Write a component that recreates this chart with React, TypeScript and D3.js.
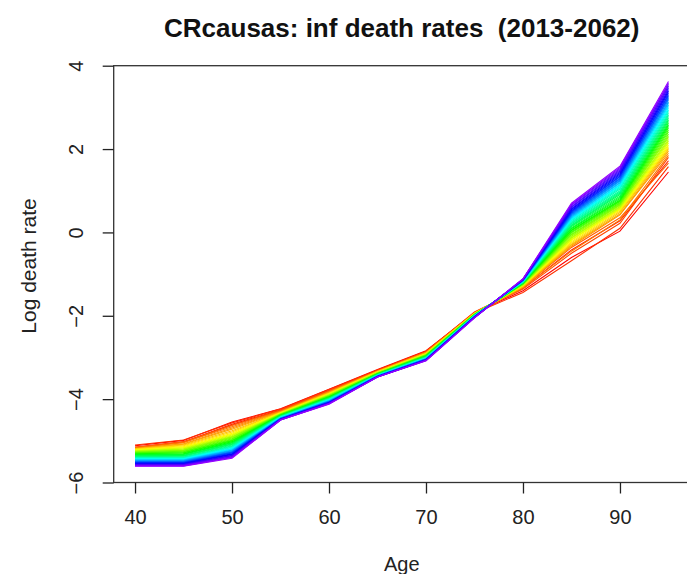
import * as d3 from 'd3';
import { useEffect, useRef } from 'react';

// ages on the x axis
const ages = [40, 45, 50, 55, 60, 65, 70, 75, 80, 85, 90, 95];
// one line per forecast year, coloured red (2013) to violet (2062)
const years = d3.range(2013, 2063);

// log death rate at each age, one value per year (2013 ... 2062)
const at40 = [-5.12, -5.16, -5.10, -5.15, -5.17, -5.16, -5.18, -5.19, -5.19, -5.20, -5.21, -5.22, -5.23, -5.24, -5.25, -5.26, -5.27, -5.28, -5.29, -5.30, -5.31, -5.32, -5.33, -5.34, -5.35, -5.36, -5.38, -5.39, -5.40, -5.41, -5.42, -5.43, -5.44, -5.45, -5.46, -5.47, -5.48, -5.49, -5.50, -5.51, -5.52, -5.53, -5.54, -5.55, -5.56, -5.57, -5.58, -5.59, -5.60, -5.61];
const at45 = [-4.99, -5.03, -4.98, -5.02, -5.04, -5.04, -5.07, -5.08, -5.10, -5.12, -5.14, -5.16, -5.17, -5.19, -5.20, -5.22, -5.23, -5.25, -5.26, -5.28, -5.29, -5.31, -5.32, -5.33, -5.35, -5.36, -5.37, -5.39, -5.40, -5.41, -5.42, -5.43, -5.44, -5.45, -5.46, -5.47, -5.48, -5.49, -5.50, -5.51, -5.52, -5.53, -5.54, -5.55, -5.56, -5.57, -5.58, -5.59, -5.60, -5.61];
const at50 = [-4.55, -4.60, -4.57, -4.62, -4.63, -4.66, -4.69, -4.72, -4.76, -4.79, -4.82, -4.84, -4.86, -4.88, -4.90, -4.91, -4.93, -4.95, -4.97, -4.99, -5.00, -5.02, -5.04, -5.05, -5.07, -5.08, -5.10, -5.12, -5.13, -5.15, -5.16, -5.18, -5.19, -5.20, -5.22, -5.23, -5.24, -5.26, -5.27, -5.28, -5.29, -5.31, -5.32, -5.33, -5.35, -5.36, -5.38, -5.39, -5.40, -5.42];
const at55 = [-4.23, -4.26, -4.24, -4.27, -4.28, -4.29, -4.30, -4.31, -4.32, -4.32, -4.33, -4.34, -4.34, -4.35, -4.35, -4.36, -4.36, -4.37, -4.37, -4.38, -4.38, -4.39, -4.39, -4.40, -4.40, -4.41, -4.41, -4.42, -4.42, -4.43, -4.43, -4.44, -4.44, -4.45, -4.45, -4.46, -4.46, -4.46, -4.47, -4.47, -4.47, -4.48, -4.48, -4.48, -4.49, -4.49, -4.49, -4.50, -4.50, -4.50];
const at60 = [-3.76, -3.79, -3.77, -3.80, -3.81, -3.82, -3.83, -3.84, -3.85, -3.86, -3.87, -3.88, -3.88, -3.89, -3.90, -3.91, -3.92, -3.92, -3.93, -3.94, -3.95, -3.95, -3.96, -3.97, -3.97, -3.98, -3.99, -3.99, -4.00, -4.01, -4.01, -4.02, -4.03, -4.03, -4.04, -4.04, -4.05, -4.06, -4.06, -4.07, -4.07, -4.08, -4.08, -4.09, -4.09, -4.10, -4.10, -4.11, -4.11, -4.12];
const at65 = [-3.29, -3.31, -3.30, -3.32, -3.32, -3.33, -3.33, -3.34, -3.34, -3.35, -3.35, -3.36, -3.36, -3.37, -3.37, -3.37, -3.38, -3.38, -3.39, -3.39, -3.39, -3.40, -3.40, -3.40, -3.41, -3.41, -3.41, -3.42, -3.42, -3.42, -3.43, -3.43, -3.43, -3.44, -3.44, -3.44, -3.44, -3.45, -3.45, -3.45, -3.45, -3.46, -3.46, -3.46, -3.46, -3.46, -3.47, -3.47, -3.47, -3.47];
const at70 = [-2.84, -2.86, -2.85, -2.87, -2.87, -2.88, -2.89, -2.89, -2.90, -2.91, -2.91, -2.92, -2.92, -2.93, -2.93, -2.94, -2.94, -2.95, -2.95, -2.96, -2.96, -2.97, -2.97, -2.98, -2.98, -2.99, -2.99, -3.00, -3.00, -3.01, -3.01, -3.02, -3.02, -3.02, -3.03, -3.03, -3.04, -3.04, -3.04, -3.05, -3.05, -3.05, -3.06, -3.06, -3.06, -3.07, -3.07, -3.07, -3.08, -3.08];
const at75 = [-1.93, -1.91, -1.94, -1.92, -1.93, -1.93, -1.94, -1.94, -1.94, -1.95, -1.95, -1.95, -1.96, -1.96, -1.96, -1.96, -1.97, -1.97, -1.97, -1.97, -1.98, -1.98, -1.98, -1.98, -1.99, -1.99, -1.99, -1.99, -2.00, -2.00, -2.00, -2.00, -2.01, -2.01, -2.01, -2.01, -2.02, -2.02, -2.02, -2.02, -2.03, -2.03, -2.03, -2.03, -2.04, -2.04, -2.04, -2.04, -2.05, -2.05];
const at80 = [-1.40, -1.34, -1.44, -1.36, -1.31, -1.33, -1.30, -1.31, -1.29, -1.28, -1.27, -1.27, -1.26, -1.26, -1.25, -1.25, -1.24, -1.24, -1.23, -1.23, -1.22, -1.22, -1.21, -1.21, -1.20, -1.20, -1.20, -1.19, -1.19, -1.18, -1.18, -1.18, -1.17, -1.17, -1.16, -1.16, -1.16, -1.15, -1.15, -1.15, -1.14, -1.14, -1.14, -1.13, -1.13, -1.13, -1.12, -1.12, -1.12, -1.11];
const at85 = [-0.60, -0.42, -0.68, -0.50, -0.36, -0.45, -0.33, -0.30, -0.28, -0.25, -0.22, -0.19, -0.17, -0.14, -0.12, -0.09, -0.06, -0.04, -0.01, 0.01, 0.04, 0.06, 0.09, 0.11, 0.14, 0.16, 0.18, 0.21, 0.23, 0.25, 0.28, 0.30, 0.32, 0.34, 0.36, 0.38, 0.40, 0.42, 0.44, 0.46, 0.48, 0.50, 0.52, 0.55, 0.57, 0.60, 0.62, 0.65, 0.67, 0.70];
const at90 = [0.03, 0.28, 0.10, 0.22, 0.35, 0.30, 0.42, 0.44, 0.48, 0.51, 0.54, 0.56, 0.58, 0.60, 0.62, 0.65, 0.67, 0.69, 0.71, 0.74, 0.76, 0.78, 0.81, 0.84, 0.87, 0.91, 0.94, 0.97, 1.00, 1.04, 1.07, 1.10, 1.13, 1.15, 1.18, 1.20, 1.23, 1.25, 1.28, 1.30, 1.33, 1.35, 1.38, 1.41, 1.44, 1.47, 1.50, 1.53, 1.56, 1.59];
const at95 = [1.45, 1.72, 1.58, 1.80, 1.66, 1.85, 1.90, 1.95, 1.99, 2.02, 2.06, 2.10, 2.15, 2.19, 2.23, 2.28, 2.32, 2.36, 2.41, 2.45, 2.50, 2.54, 2.58, 2.62, 2.66, 2.70, 2.74, 2.78, 2.82, 2.86, 2.90, 2.94, 2.98, 3.02, 3.06, 3.10, 3.13, 3.17, 3.21, 3.24, 3.28, 3.31, 3.35, 3.39, 3.43, 3.47, 3.51, 3.55, 3.58, 3.62];

const byAge = [at40, at45, at50, at55, at60, at65, at70, at75, at80, at85, at90, at95];

const xTicks = [40, 50, 60, 70, 80, 90];
const yTicks = [-6, -4, -2, 0, 2, 4];

const App = () => {
  const ref = useRef<SVGSVGElement | null>(null);

  useEffect(() => {
    const width = 687;
    const height = 574;
    const font = 'Liberation Sans, Arial, sans-serif';

    const svg = d3.select(ref.current).attr('width', width).attr('height', height);
    svg.selectAll('*').remove();

    svg.append('rect').attr('width', width).attr('height', height).attr('fill', '#fff');

    const x = d3.scaleLinear().domain([37.8, 97.2]).range([113.7, 689.8]);
    const y = d3.scaleLinear().domain([-6, 4]).range([482.5, 65.7]);

    const line = d3
      .line<number>()
      .x((_, j) => x(ages[j]))
      .y((d) => y(d));

    // one curve per year, red first, violet drawn last on top
    years.forEach((yr, i) => {
      const vals = byAge.map((col) => col[i]);
      const hue = (i / (years.length - 1)) * 275;
      svg
        .append('path')
        .attr('d', line(vals))
        .attr('fill', 'none')
        .attr('stroke', d3.hsl(hue, 1, 0.5).toString())
        .attr('stroke-width', 1.1)
        .attr('data-year', yr);
    });

    // plot box
    svg
      .append('rect')
      .attr('x', x.range()[0])
      .attr('y', y.range()[1])
      .attr('width', x.range()[1] - x.range()[0])
      .attr('height', y.range()[0] - y.range()[1])
      .attr('fill', 'none')
      .attr('stroke', '#333')
      .attr('stroke-width', 1.3);

    // x axis
    const gx = svg
      .append('g')
      .attr('transform', `translate(0,${y.range()[0]})`)
      .call(d3.axisBottom(x).tickValues(xTicks).tickSize(11).tickSizeOuter(0).tickPadding(16));
    gx.select('.domain').remove();
    gx.selectAll('line').attr('stroke', '#222').attr('stroke-width', 1.3);
    gx.selectAll('text').attr('font-size', 20).attr('font-family', font).attr('fill', '#222');

    // y axis, labels parallel to the axis as in R
    const gy = svg
      .append('g')
      .attr('transform', `translate(${x.range()[0]},0)`)
      .call(d3.axisLeft(y).tickValues(yTicks).tickSize(11).tickSizeOuter(0));
    gy.select('.domain').remove();
    gy.selectAll('line').attr('stroke', '#222').attr('stroke-width', 1.3);
    gy.selectAll('text')
      .attr('x', 0)
      .attr('y', -31)
      .attr('dy', null)
      .attr('transform', 'rotate(-90)')
      .attr('text-anchor', 'middle')
      .attr('font-size', 20)
      .attr('font-family', font)
      .attr('fill', '#222');

    const cx = (x.range()[0] + x.range()[1]) / 2;

    svg
      .append('text')
      .attr('x', cx)
      .attr('y', 37)
      .attr('text-anchor', 'middle')
      .attr('font-family', font)
      .attr('font-weight', 'bold')
      .attr('font-size', 26)
      .attr('fill', '#111')
      .style('white-space', 'pre')
      .text('CRcausas: inf death rates  (2013-2062)');

    svg
      .append('text')
      .attr('x', cx)
      .attr('y', 571)
      .attr('text-anchor', 'middle')
      .attr('font-family', font)
      .attr('font-size', 20)
      .attr('fill', '#222')
      .text('Age');

    svg
      .append('text')
      .attr('transform', 'translate(36,266) rotate(-90)')
      .attr('text-anchor', 'middle')
      .attr('font-family', font)
      .attr('font-size', 21)
      .attr('fill', '#222')
      .text('Log death rate');
  }, []);

  return <svg ref={ref} style={{ position: 'absolute', left: 0, top: 0 }}></svg>;
};

export default App;
